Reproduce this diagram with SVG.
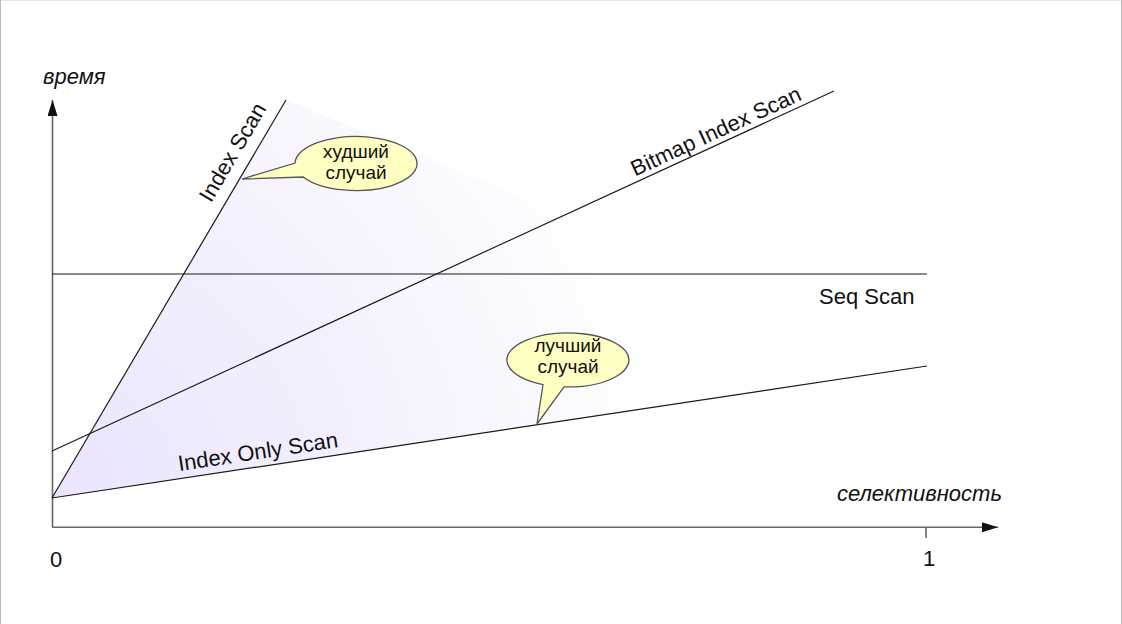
<svg xmlns="http://www.w3.org/2000/svg" width="1122" height="624" viewBox="0 0 1122 624">
<style>
.t{font-family:"Liberation Sans",Arial,sans-serif;font-size:22px;fill:#111}
.it{font-style:italic}
.cl{font-family:"Liberation Sans",Arial,sans-serif;font-size:19px;fill:#111;text-anchor:middle}
.ln{stroke:#1a1a1a;stroke-width:1.2;fill:none}
.ax{stroke:#666;stroke-width:1.6;fill:none}
.bub{fill:#ffffc4;stroke:#555;stroke-width:1.3}
</style>
<defs>
<radialGradient id="g" gradientUnits="userSpaceOnUse" cx="52" cy="498" r="620">
<stop offset="0" stop-color="#ebe4fd"/>
<stop offset="0.5" stop-color="#f4f0fe"/>
<stop offset="1" stop-color="#ffffff"/>
</radialGradient>
<marker id="ah" viewBox="0 0 16 10" refX="16" refY="5" markerWidth="16" markerHeight="10" markerUnits="userSpaceOnUse" orient="auto">
<path d="M0,0 L16,5 L0,10 Z" fill="#111"/>
</marker>
</defs>
<rect width="1122" height="624" fill="#fff"/>
<line x1="0" y1="0.5" x2="1122" y2="0.5" stroke="#e6e0f8"/>
<line x1="0.5" y1="0" x2="0.5" y2="624" stroke="#bbb"/>
<line x1="1121.5" y1="0" x2="1121.5" y2="624" stroke="#bbb"/>

<g id="shade">
<polygon points="52,498 286,100 927,366" fill="url(#g)"/>
</g>

<g id="axes">
<line class="ax" x1="52.5" y1="527" x2="52.5" y2="100" marker-end="url(#ah)"/>
<line class="ax" x1="52" y1="527.3" x2="998" y2="527.3" marker-end="url(#ah)"/>
<line x1="926" y1="528" x2="926" y2="538" stroke="#333" stroke-width="1.2"/>
<text class="t it" x="43" y="84">время</text>
<text class="t it" x="1002" y="501" text-anchor="end">селективность</text>
<text class="t" x="56" y="567" text-anchor="middle" font-size="23">0</text>
<text class="t" x="929" y="566" text-anchor="middle" font-size="23">1</text>
</g>

<g id="connectors">
<line class="ln" x1="52" y1="498" x2="286" y2="100"/>
<line class="ln" x1="52" y1="451" x2="834" y2="91"/>
<line class="ln" x1="52" y1="274" x2="927" y2="274"/>
<line class="ln" x1="52" y1="498" x2="927" y2="366"/>
</g>

<g id="index-scan">
<text class="t" text-anchor="middle" transform="translate(239,156) rotate(-59.5)">Index Scan</text>
</g>
<g id="bitmap-index-scan">
<text class="t" text-anchor="middle" transform="translate(719,138) rotate(-24.7)">Bitmap Index Scan</text>
</g>
<g id="seq-scan">
<text class="t" x="819" y="304">Seq Scan</text>
</g>
<g id="index-only-scan">
<text class="t" text-anchor="middle" transform="translate(259,459) rotate(-8.58)">Index Only Scan</text>
</g>

<g id="worst-case">
<path class="bub" d="M295.1,163 A61 27 0 1 1 303.2,177 L242,179 Z"/>
<text class="cl" x="356" y="158">худший</text>
<text class="cl" x="356" y="179">случай</text>
</g>
<g id="best-case">
<path class="bub" d="M543,384.6 A61 27 0 1 1 564,386.9 L537,424 Z"/>
<text class="cl" x="568" y="352">лучший</text>
<text class="cl" x="568" y="373">случай</text>
</g>
</svg>
